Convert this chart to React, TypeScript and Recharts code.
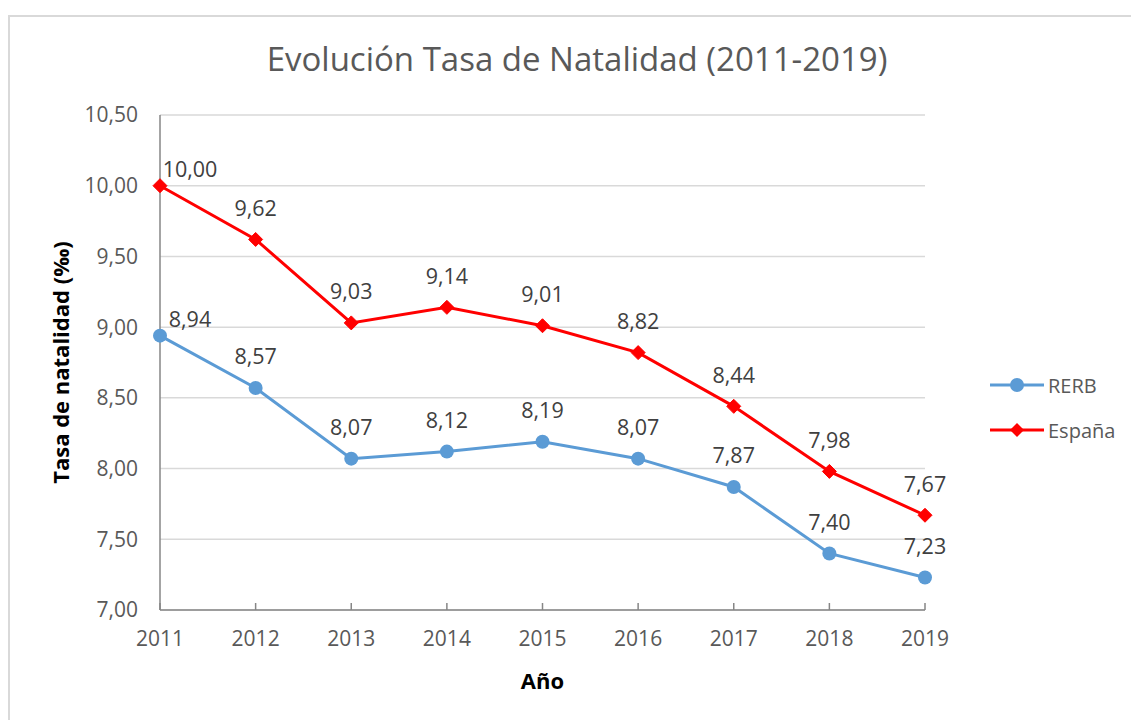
import { LineChart, Line, XAxis, YAxis, CartesianGrid, Label, LabelList } from 'recharts';

const years = ['2011', '2012', '2013', '2014', '2015', '2016', '2017', '2018', '2019'];
const rerb = [8.94, 8.57, 8.07, 8.12, 8.19, 8.07, 7.87, 7.4, 7.23];
const espana = [10.0, 9.62, 9.03, 9.14, 9.01, 8.82, 8.44, 7.98, 7.67];
const yTicks = [7, 7.5, 8, 8.5, 9, 9.5, 10, 10.5];

const BLUE = '#5B9BD5';
const RED = '#FF0000';
const FONT = '"Open Sans", "Noto Sans", sans-serif';

const data = years.map((year, i) => ({ year, rerb: rerb[i], espana: espana[i] }));

const fmt = (v: number) => v.toFixed(2).replace('.', ',');

function PointLabel(props: any) {
  const { x, y, value, index } = props;
  const first = index === 0;
  return (
    <text
      x={x + (first ? 30 : 0)}
      y={y - (first ? 17 : 32)}
      textAnchor="middle"
      dominantBaseline="central"
      fontSize={21.5}
      fontFamily={FONT}
      fill="#404040"
    >
      {fmt(value)}
    </text>
  );
}

function Diamond(props: any) {
  const { cx, cy } = props;
  if (cx == null || cy == null) return null;
  const s = 7;
  return (
    <polygon
      points={`${cx},${cy - s} ${cx + s},${cy} ${cx},${cy + s} ${cx - s},${cy}`}
      fill={RED}
      stroke={RED}
    />
  );
}

function LegendItem({ color, label, top, diamond }: { color: string; label: string; top: number; diamond?: boolean }) {
  return (
    <div style={{ position: 'absolute', left: 988, top: top - 15, height: 30, display: 'flex', alignItems: 'center' }}>
      <svg width={58} height={30}>
        <line x1={2} y1={15} x2={56} y2={15} stroke={color} strokeWidth={3} />
        {diamond ? (
          <polygon points="29,8 36,15 29,22 22,15" fill={color} />
        ) : (
          <circle cx={29} cy={15} r={7} fill={color} />
        )}
      </svg>
      <span style={{ fontFamily: FONT, fontSize: 20, color: '#595959', marginLeft: 2 }}>{label}</span>
    </div>
  );
}

export default function App() {
  return (
    <div style={{ position: 'absolute', left: 0, top: 0, width: 1131, height: 720, overflow: 'hidden', background: '#fff' }}>
      <div
        style={{
          position: 'absolute',
          left: 8,
          top: 15,
          width: 1140,
          height: 720,
          border: '2px solid #d9d9d9',
          boxSizing: 'border-box',
        }}
      />
      <div
        style={{
          position: 'absolute',
          left: 0,
          top: 36,
          width: 1154,
          textAlign: 'center',
          fontFamily: FONT,
          fontSize: 33,
          color: '#595959',
        }}
      >
        Evolución Tasa de Natalidad (2011-2019)
      </div>
      <div style={{ position: 'absolute', left: 0, top: 0 }}>
        <LineChart
          width={1131}
          height={720}
          data={data}
          margin={{ top: 115, right: 206, bottom: 30, left: 100 }}
        >
          <CartesianGrid vertical={false} stroke="#d9d9d9" strokeWidth={1.5} />
          <XAxis
            dataKey="year"
            height={80}
            stroke="#868686"
            strokeWidth={1.5}
            tickSize={-7}
            tickMargin={28}
            tick={{ fill: '#595959', fontSize: 21, fontFamily: FONT }}
          >
            <Label
              value="Año"
              position="insideBottom"
              offset={1}
              style={{ fill: '#000', fontSize: 22, fontWeight: 'bold', fontFamily: FONT }}
            />
          </XAxis>
          <YAxis
            width={60}
            domain={[7, 10.5]}
            ticks={yTicks}
            tickFormatter={fmt}
            tickLine={false}
            tickMargin={16}
            stroke="#868686"
            strokeWidth={1.5}
            tick={{ fill: '#595959', fontSize: 21, fontFamily: FONT }}
          >
            <Label
              value="Tasa de natalidad (‰)"
              angle={-90}
              position="center"
              dx={-69}
              style={{ fill: '#000', fontSize: 22, fontWeight: 'bold', fontFamily: FONT, textAnchor: 'middle' }}
            />
          </YAxis>
          <Line
            dataKey="rerb"
            name="RERB"
            stroke={BLUE}
            strokeWidth={3}
            dot={{ r: 7, fill: BLUE, stroke: BLUE, strokeWidth: 0 }}
            isAnimationActive={false}
          >
            <LabelList dataKey="rerb" content={PointLabel} />
          </Line>
          <Line
            dataKey="espana"
            name="España"
            stroke={RED}
            strokeWidth={3}
            dot={<Diamond />}
            isAnimationActive={false}
          >
            <LabelList dataKey="espana" content={PointLabel} />
          </Line>
        </LineChart>
      </div>
      <LegendItem color={BLUE} label="RERB" top={385} />
      <LegendItem color={RED} label="España" top={430} diamond />
    </div>
  );
}
